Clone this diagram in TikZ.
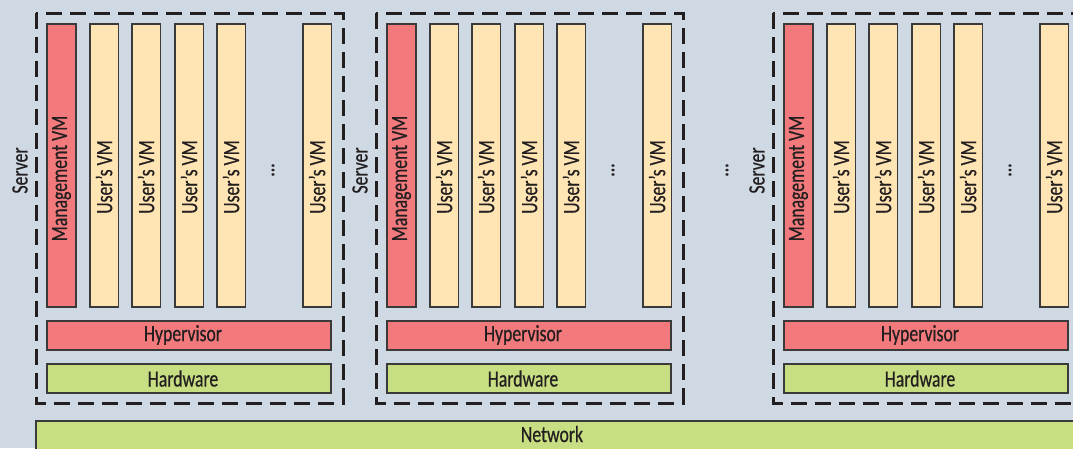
\documentclass[tikz,border=0pt]{standalone}
\usepackage{fontspec}
\setmainfont[FakeStretch=0.76, FakeBold=0.5]{Carlito}
\definecolor{bgc}{HTML}{CED9E3}
\definecolor{mgred}{HTML}{F37A7C}
\definecolor{vmcream}{HTML}{FFE5B4}
\definecolor{hwgreen}{HTML}{C7DE82}
\definecolor{edge}{HTML}{3A3A3A}
\definecolor{ink}{HTML}{231F20}
\tikzset{
  layer/.style={draw=edge, line width=1.3pt, inner sep=0pt, text=ink},
  mgmtvm/.style={layer, fill=mgred},
  uservm/.style={layer, fill=vmcream},
  hyper/.style={layer, fill=mgred},
  hard/.style={layer, fill=hwgreen},
  servbox/.style={draw=ink, line width=3pt, dash pattern=on 16pt off 8pt},
  lbl/.style={text=ink, inner sep=0pt, font=\fontsize{23.3}{23.3}\selectfont},
  vlbl/.style={lbl, rotate=90},
}
\begin{document}
\begin{tikzpicture}[x=1pt, y=-1pt]
  \useasboundingbox (0,0) rectangle (1073,448);
  \clip (0,0) rectangle (1073,448);
  \fill[bgc] (0,0) rectangle (1073,448);

  % one server block per left edge
  \foreach \L/\s in {36/1, 376/2, 773/3}{
    \draw[servbox] (\L,13) rectangle (\L+307,403);
    \node[vlbl] (srv\s) at (\L-16,170.5) {Server};
    % management VM column
    \draw[mgmtvm] (\L+11,24) rectangle (\L+40,307);
    \node[vlbl] (mgmt\s) at (\L+25.5,178.5) {Management VM};
    % user VM columns
    \foreach \a/\k in {54/1, 96/2, 139/3, 181/4, 267/5}{
      \draw[uservm] (\L+\a,24) rectangle (\L+\a+28.5,307);
      \node[vlbl] (user\s\k) at (\L+\a+14,177) {User’s VM};
    }
    \node[vlbl] (dots\s) at (\L+237,170) {...};
    % hypervisor and hardware layers
    \draw[hyper] (\L+11,321) rectangle (\L+295,350);
    \node[lbl] (hyp\s) at (\L+147,335) {Hypervisor};
    \draw[hard] (\L+11,364) rectangle (\L+295,393);
    \node[lbl] (hw\s) at (\L+147,378.5) {Hardware};
  }

  % gap between the second and last server
  \node[vlbl] (moredots) at (727,170) {...};

  % shared network
  \draw[hard] (36,421) rectangle (1090,470);
  \node[lbl] (net) at (552,434) {Network};
\end{tikzpicture}
\end{document}
